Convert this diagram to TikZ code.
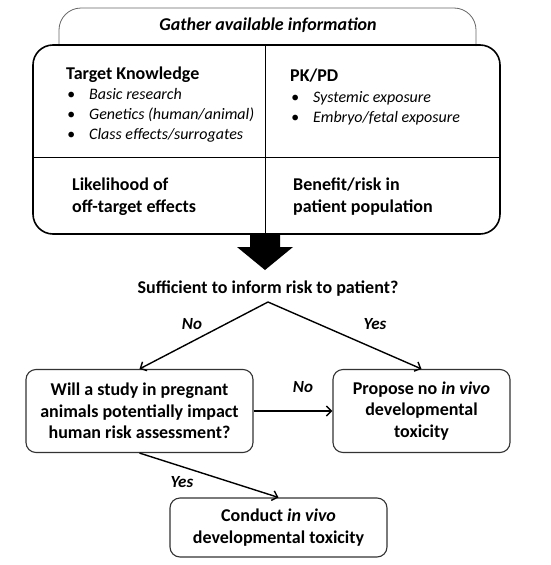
\documentclass[tikz,border=0pt]{standalone}
\usepackage{fontspec}
\setmainfont{Carlito}
\usetikzlibrary{positioning, arrows.meta}

\begin{document}
\begin{tikzpicture}[
    x=1pt, y=-1pt,
    every node/.style={font=\bfseries\fontsize{18}{21.5}\selectfont, inner sep=0pt},
    head/.style={anchor=base west},
    item/.style={anchor=base west, font=\itshape\fontsize{16}{20}\selectfont},
    answer/.style={font=\bfseries\itshape\fontsize{17}{21}\selectfont},
    stepbox/.style={
        rectangle,
        rounded corners=10pt,
        draw=black!80,
        line width=1.1pt,
        align=center
    },
    arrow/.style={
        -{Straight Barb[length=5pt,width=10pt]},
        line width=1.4pt,
        color=black
    }
]
\useasboundingbox (0,0) rectangle (550,565);

% ==================== INFORMATION PANEL ====================
\draw[black!60, line width=0.8pt, rounded corners=22pt] (59,46) -- (59,8) -- (476,8) -- (476,46);
\node[font=\bfseries\itshape\fontsize{18}{20}\selectfont] (gather) at (268,25) {Gather available information};

\draw[line width=1.6pt, rounded corners=20pt] (33,45) rectangle (500,234);
\coordinate (midtop) at (265,45);
\coordinate (midbot) at (265,234);
\coordinate (midleft) at (33,157);
\coordinate (midright) at (500,157);
\draw[line width=0.7pt] (midtop) -- (midbot);
\draw[line width=0.7pt] (midleft) -- (midright);

% Target knowledge
\node[head] (target) at (66,79) {Target Knowledge};
\node[item] (basic) at (67,99) {\textbullet\hspace{14pt}Basic research};
\node[item] (genetics) at (67,119) {\textbullet\hspace{14pt}Genetics (human/animal)};
\node[item] (class) at (67,139) {\textbullet\hspace{14pt}Class effects/surrogates};

% PK/PD
\node[head] (pkpd) at (290,81) {PK/PD};
\node[item] (systemic) at (291,102) {\textbullet\hspace{14pt}Systemic exposure};
\node[item] (embryo) at (291,122) {\textbullet\hspace{14pt}Embryo/fetal exposure};

% Bottom cells
\node[head, align=left] (likely) at (72,212) {Likelihood of\\off-target effects};
\node[head, align=left] (benefit) at (293,212) {Benefit/risk in\\patient population};

% ==================== DECISION ====================
\fill (250,234) -- (280,234) -- (280,247) -- (293,247) -- (265,270) -- (237,247) -- (250,247) -- cycle;

\node[anchor=base] (question) at (268,293) {Sufficient to inform risk to patient?};
\coordinate (split) at (268,302);

\node[stepbox, minimum width=227pt, minimum height=83pt] (study) at (139.5,411)
    {Will a study in pregnant\\animals potentially impact\\human risk assessment?};
\node[stepbox, minimum width=177pt, minimum height=83pt] (propose) at (421.5,411)
    {Propose no \textit{in vivo}\\developmental\\toxicity};
\node[stepbox, minimum width=217pt, minimum height=59pt] (conduct) at (278.5,527.5)
    {Conduct \textit{in vivo}\\developmental toxicity};

% Decision connections
\draw[arrow] (split) -- (study.north);
\draw[arrow] (split) -- (propose.north);
\draw[arrow] (study.east) -- (propose.west);
\draw[arrow] (study.south) -- (conduct.north);

% ==================== LABELS ====================
\node[answer, anchor=base] (no1) at (192,329) {No};
\node[answer, anchor=base] (yes1) at (375,329) {Yes};
\node[answer, anchor=base] (no2) at (303,392) {No};
\node[answer, anchor=base] (yes2) at (182,487) {Yes};

\end{tikzpicture}
\end{document}
